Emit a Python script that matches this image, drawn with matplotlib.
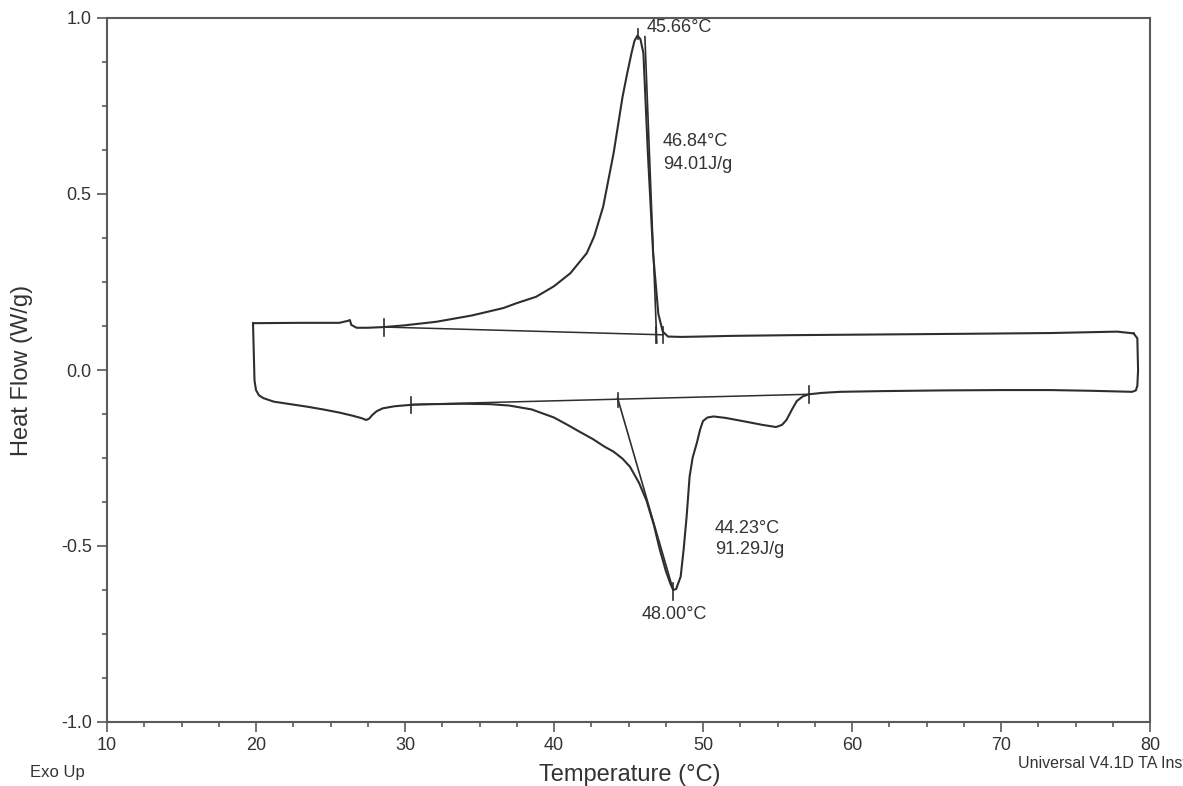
import matplotlib
matplotlib.use("Agg")
import matplotlib.pyplot as plt
from matplotlib.ticker import MultipleLocator

plt.rcParams['font.family'] = ['Liberation Sans', 'DejaVu Sans']

# ---- heating scan (lower trace), left to right, incl. the two end turns ----
heat_T = [19.8, 19.85, 19.9, 20.0, 20.2, 20.5, 21.2, 22.3, 23.4, 24.5, 25.6,
          26.5, 27.1, 27.4, 27.6, 27.8, 28.1, 28.5, 29.3, 30.4, 32.0, 34.0,
          35.7, 37.0, 38.5, 40.0, 41.0, 41.7, 42.6, 43.4, 44.0, 44.6, 45.1,
          45.7, 46.2, 46.7, 47.1, 47.5, 47.8, 48.0, 48.2, 48.5, 48.7, 48.9,
          49.1, 49.3, 49.6, 49.8, 50.0, 50.3, 50.7, 51.5, 52.9, 54.0, 54.9,
          55.3, 55.6, 56.0, 56.3, 56.7, 57.1, 58.0, 59.2, 62.0, 66.0, 70.0,
          73.3, 76.0, 78.8, 79.05, 79.15, 79.2, 79.15, 78.9]
heat_hf = [0.133, 0.05, -0.03, -0.057, -0.072, -0.08, -0.09, -0.097, -0.104,
           -0.112, -0.121, -0.130, -0.137, -0.142, -0.138, -0.128, -0.117,
           -0.109, -0.103, -0.099, -0.097, -0.096, -0.097, -0.101, -0.112,
           -0.135, -0.158, -0.175, -0.196, -0.218, -0.232, -0.252, -0.275,
           -0.32, -0.37, -0.44, -0.51, -0.57, -0.606, -0.625, -0.622, -0.587,
           -0.51, -0.417, -0.303, -0.25, -0.205, -0.17, -0.145, -0.135,
           -0.132, -0.136, -0.147, -0.156, -0.162, -0.156, -0.142, -0.11,
           -0.088, -0.075, -0.069, -0.065, -0.062, -0.060, -0.058, -0.057,
           -0.057, -0.059, -0.062, -0.058, -0.045, 0.0, 0.09, 0.104]

# ---- cooling scan (upper trace), right to left ----
cool_T = [78.9, 77.8, 73.3, 68.0, 62.0, 56.0, 52.0, 49.8, 48.5, 47.65, 47.3,
          47.0, 46.65, 46.3, 46.0, 45.8, 45.6, 45.4, 45.2, 44.9, 44.6, 44.0,
          43.3, 42.7, 42.2, 41.1, 40.0, 38.8, 37.5, 36.6, 34.5, 32.1, 30.0,
          28.6, 27.5, 26.75, 26.4, 26.3, 26.2, 25.6, 23.0, 19.8]
cool_hf = [0.104, 0.109, 0.105, 0.103, 0.101, 0.099, 0.097, 0.095, 0.094,
           0.095, 0.109, 0.16, 0.332, 0.616, 0.90, 0.94, 0.950, 0.935, 0.90,
           0.84, 0.776, 0.616, 0.464, 0.38, 0.332, 0.275, 0.238, 0.208, 0.19,
           0.176, 0.155, 0.137, 0.127, 0.122, 0.12, 0.12, 0.128, 0.142, 0.14,
           0.134, 0.134, 0.133]

# ---- analysis lines: integration baselines and onset tangents ----
cool_base_T = [28.6, 47.3]
cool_base_hf = [0.122, 0.100]
heat_base_T = [30.4, 57.1]
heat_base_hf = [-0.098, -0.069]
cool_tan_T = [46.1, 46.9]
cool_tan_hf = [0.947, 0.077]
heat_tan_T = [44.27, 48.0]
heat_tan_hf = [-0.08, -0.625]

# ---- short vertical limit / peak markers: (T, y_low, y_high) ----
limit_marks = [(28.6, 0.097, 0.145), (46.84, 0.077, 0.122), (47.3, 0.077, 0.122),
               (45.66, 0.94, 0.97), (30.4, -0.122, -0.077), (44.27, -0.106, -0.065),
               (57.1, -0.094, -0.045), (48.0, -0.653, -0.605)]

# ---- annotations: (T, y, text, ha) ----
labels = [(46.2, 0.972, "45.66°C", "left"),
          (47.3, 0.648, "46.84°C", "left"),
          (47.3, 0.585, "94.01J/g", "left"),
          (50.8, -0.449, "44.23°C", "left"),
          (50.8, -0.509, "91.29J/g", "left"),
          (48.05, -0.696, "48.00°C", "center")]

x_ticks = [10, 20, 30, 40, 50, 60, 70, 80]
y_ticks = [-1.0, -0.5, 0.0, 0.5, 1.0]
y_ticklabels = ["-1.0", "-0.5", "0.0", "0.5", "1.0"]

line_c = "#2e2e2e"
axis_c = "#5a5a5a"

fig = plt.figure(figsize=(11.83, 7.86), dpi=100)
ax = fig.add_axes([107 / 1183, 1 - 722 / 786, 1043 / 1183, 704 / 786])

ax.plot(heat_T, heat_hf, color=line_c, lw=1.5, solid_joinstyle='round')
ax.plot(cool_T, cool_hf, color=line_c, lw=1.5, solid_joinstyle='round')
ax.plot(cool_base_T, cool_base_hf, color=line_c, lw=1.1)
ax.plot(heat_base_T, heat_base_hf, color=line_c, lw=1.1)
ax.plot(cool_tan_T, cool_tan_hf, color=line_c, lw=1.2)
ax.plot(heat_tan_T, heat_tan_hf, color=line_c, lw=1.2)
for t, y0, y1 in limit_marks:
    ax.plot([t, t], [y0, y1], color=line_c, lw=1.2)

for t, y, s, ha in labels:
    ax.text(t, y, s, ha=ha, va='center', fontsize=13, color="#333333")

ax.set_xlim(10, 80)
ax.set_ylim(-1.0, 1.0)
ax.set_xticks(x_ticks)
ax.set_yticks(y_ticks)
ax.set_yticklabels(y_ticklabels)
ax.xaxis.set_minor_locator(MultipleLocator(2.5))
ax.yaxis.set_minor_locator(MultipleLocator(0.125))
ax.tick_params(which='major', direction='out', length=7, width=1.2, color=axis_c,
               labelsize=13, labelcolor="#333333", pad=4)
ax.tick_params(which='minor', direction='out', length=3.5, width=1.2, color=axis_c)
ax.tick_params(top=False, right=False, which='both')
for sp in ax.spines.values():
    sp.set_color(axis_c)
    sp.set_linewidth(1.5)

ax.set_xlabel("Temperature (°C)", fontsize=17, color="#333333")
ax.xaxis.label.set_va('center')
ax.xaxis.set_label_coords(630 / 1043 - 107 / 1043 + 0.0, (722 - 775) / 704)
ax.set_ylabel("Heat Flow (W/g)", fontsize=17, color="#333333")
ax.yaxis.label.set_va('center')
ax.yaxis.set_label_coords((22 - 107) / 1043, 0.5)

fig.text(30 / 1183, 1 - 772 / 786, "Exo Up", ha='left', va='center',
         fontsize=12, color="#333333")
fig.text(1018 / 1183, 1 - 763 / 786, "Universal V4.1D TA Instruments",
         ha='left', va='center', fontsize=11.5, color="#333333")

fig.savefig("out.png", dpi=100, facecolor='white')
